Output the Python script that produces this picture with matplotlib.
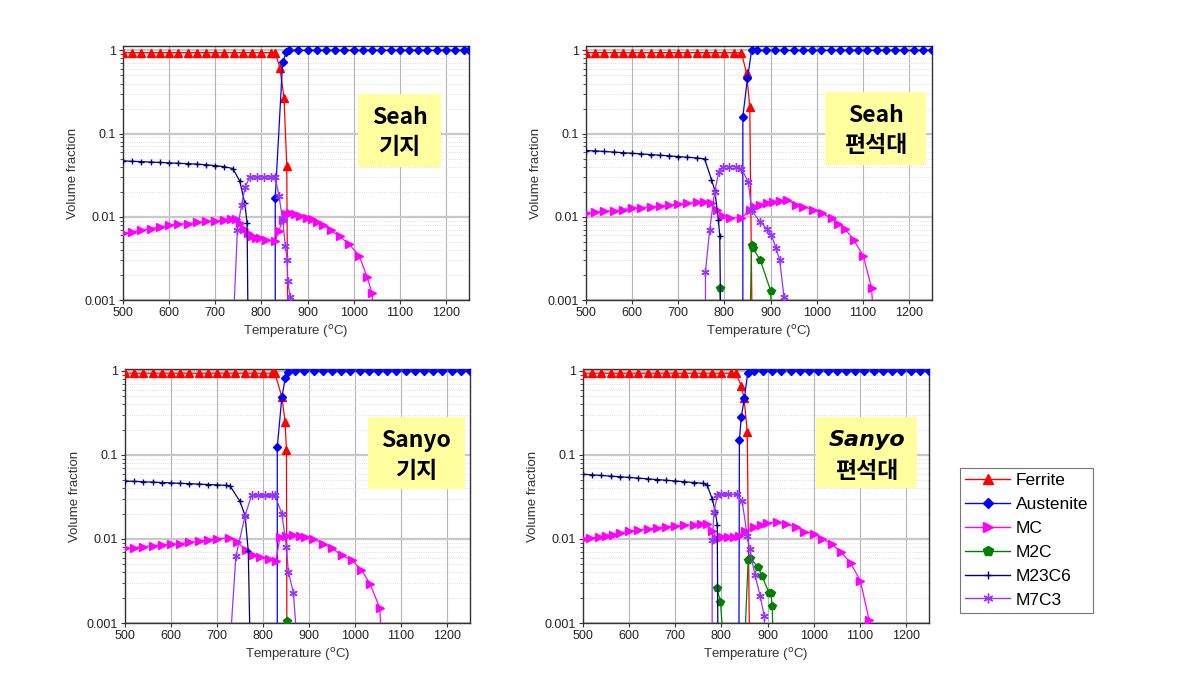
import numpy as np
import matplotlib
matplotlib.use("Agg")
import matplotlib.pyplot as plt
from matplotlib.lines import Line2D
from matplotlib.patches import Rectangle
from matplotlib.ticker import LogLocator, FixedLocator, FixedFormatter

nan = float("nan")

# ---- Panel 1: Seah 기지 ----
T_FER_1 = [500, 520, 540, 560, 580, 600, 620, 640, 660, 680, 700, 720, 740, 760, 780, 800, 820, 830, 840, 849, 855, 857]
V_FER_1 = [0.94, 0.94, 0.94, 0.94, 0.94, 0.94, 0.94, 0.94, 0.94, 0.94, 0.94, 0.94, 0.94, 0.94, 0.94, 0.94, 0.94, 0.94, 0.62, 0.27, 0.041, 0.0005]
T_AUS_1 = [830, 830, 846, 854, 860, 880, 900, 920, 940, 960, 980, 1000, 1020, 1040, 1060, 1080, 1100, 1120, 1140, 1160, 1180, 1200, 1220, 1240, 1250]
V_AUS_1 = [0.0005, 0.017, 0.72, 0.95, 1.0, 1.0, 1.0, 1.0, 1.0, 1.0, 1.0, 1.0, 1.0, 1.0, 1.0, 1.0, 1.0, 1.0, 1.0, 1.0, 1.0, 1.0, 1.0, 1.0, 1.0]
T_MC_1 = [500, 520, 540, 560, 580, 600, 620, 640, 660, 680, 700, 720, 735, 745, 753, 763, 771, 779, 788, 797, 811, 830,
          838, 846, 854, 862, 872, 883, 898, 910, 920, 934, 950, 970, 990, 1012, 1029, 1040, 1044]
V_MC_1 = [0.0063, 0.0066, 0.0069, 0.0072, 0.0076, 0.0079, 0.0081, 0.0083, 0.0086, 0.0088, 0.0089, 0.0092, 0.0095, 0.0094,
          0.0085, 0.0072, 0.0063, 0.0058, 0.0056, 0.0055, 0.0053, 0.0051, 0.0068, 0.0092, 0.0107, 0.0110, 0.0107, 0.0103,
          0.0098, 0.0093, 0.0087, 0.0080, 0.0069, 0.0058, 0.0047, 0.0034, 0.0019, 0.0012, 0.0005]
T_M2C_1 = []
V_M2C_1 = []
T_M23_1 = [500, 520, 540, 560, 580, 600, 620, 640, 660, 680, 700, 720, 738, 753, 764, 769, 771]
V_M23_1 = [0.047, 0.0465, 0.046, 0.0455, 0.045, 0.0445, 0.044, 0.0435, 0.043, 0.0422, 0.0412, 0.040, 0.038, 0.027, 0.0145, 0.0084, 0.0005]
T_M7_1 = [739, 748, 757, 765, 775, 790, 805, 820, 830, 838, 846, 852, 856, 857, 862, 864]
V_M7_1 = [0.0005, 0.007, 0.014, 0.023, 0.030, 0.030, 0.030, 0.030, 0.030, 0.018, 0.0092, 0.0045, 0.003, 0.0017, 0.0011, 0.0005]

# ---- Panel 2: Seah 편석대 ----
T_FER_2 = [500, 520, 540, 560, 580, 600, 620, 640, 660, 680, 700, 720, 740, 760, 780, 800, 820, 837, 848, 855, 860]
V_FER_2 = [0.94, 0.94, 0.94, 0.94, 0.94, 0.94, 0.94, 0.94, 0.94, 0.94, 0.94, 0.94, 0.94, 0.94, 0.94, 0.94, 0.94, 0.94, 0.53, 0.21, 0.0005]
T_AUS_2 = [840, 840, 850, 859, 870, 890, 910, 930, 950, 970, 990, 1010, 1030, 1050, 1070, 1090, 1110, 1130, 1150, 1170, 1190, 1210, 1230, 1250]
V_AUS_2 = [0.0005, 0.16, 0.46, 1.0, 1.0, 1.0, 1.0, 1.0, 1.0, 1.0, 1.0, 1.0, 1.0, 1.0, 1.0, 1.0, 1.0, 1.0, 1.0, 1.0, 1.0, 1.0, 1.0, 1.0]
T_MC_2 = [500, 520, 540, 560, 580, 600, 620, 640, 660, 680, 700, 720, 740, 755, 770, 783, 797, 812, 837, 855, 866, 877,
          892, 906, 920, 935, 956, 970, 993, 1011, 1033, 1047, 1062, 1080, 1101, 1119, 1124]
V_MC_2 = [0.0110, 0.0113, 0.0116, 0.0119, 0.0122, 0.0126, 0.0129, 0.0132, 0.0135, 0.0138, 0.0142, 0.0145, 0.0149, 0.0152,
          0.0146, 0.0122, 0.0102, 0.0098, 0.0096, 0.0122, 0.0131, 0.0139, 0.0146, 0.0152, 0.0157, 0.0160, 0.0139, 0.0133,
          0.0122, 0.0110, 0.0096, 0.0083, 0.0071, 0.0053, 0.0034, 0.0014, 0.0005]
T_M2C_2 = [790, 793, nan, 855.5, 859, 862, 878, 900, 903]
V_M2C_2 = [0.0014, 0.0005, nan, 0.0005, 0.0046, 0.0042, 0.0030, 0.0013, 0.0005]
T_M23_2 = [500, 520, 540, 560, 580, 600, 620, 640, 660, 680, 700, 720, 740, 757, 772, 779, 787, 790, 792]
V_M23_2 = [0.0625, 0.062, 0.061, 0.060, 0.059, 0.058, 0.057, 0.056, 0.055, 0.054, 0.053, 0.052, 0.051, 0.0497, 0.028, 0.021,
           0.0092, 0.0058, 0.0005]
T_M7_2 = [759, 759, 768, 779, 788, 797, 810, 825, 837, 852, 859, 877, 892, 902, 912, 920, 929, 930]
V_M7_2 = [0.0005, 0.0022, 0.0069, 0.020, 0.035, 0.040, 0.040, 0.040, 0.038, 0.026, 0.012, 0.0087, 0.0072, 0.006, 0.0042, 0.003, 0.0011, 0.0005]

# ---- Panel 3: Sanyo 기지 ----
T_FER_3 = [500, 520, 540, 560, 580, 600, 620, 640, 660, 680, 700, 720, 740, 760, 780, 800, 820, 826, 841, 848, 851, 852]
V_FER_3 = [0.94, 0.94, 0.94, 0.94, 0.94, 0.94, 0.94, 0.94, 0.94, 0.94, 0.94, 0.94, 0.94, 0.94, 0.94, 0.94, 0.94, 0.94, 0.49, 0.25, 0.114, 0.0005]
T_AUS_3 = [831, 831, 841, 848.5, 855, 870, 890, 910, 930, 950, 970, 990, 1010, 1030, 1050, 1070, 1090, 1110, 1130, 1150, 1170, 1190, 1210, 1230, 1250]
V_AUS_3 = [0.0005, 0.123, 0.49, 0.82, 0.96, 1.0, 1.0, 1.0, 1.0, 1.0, 1.0, 1.0, 1.0, 1.0, 1.0, 1.0, 1.0, 1.0, 1.0, 1.0, 1.0, 1.0, 1.0, 1.0, 1.0]
T_MC_3 = [500, 520, 540, 560, 580, 600, 620, 640, 660, 680, 700, 725, 743, 764, 779, 794, 812, 828, 837, 851, 866, 880,
          891, 909, 931, 949, 971, 993, 1014, 1033, 1054, 1058]
V_MC_3 = [0.0078, 0.0079, 0.0081, 0.0083, 0.0085, 0.0086, 0.0088, 0.0091, 0.0094, 0.0097, 0.0101, 0.0103, 0.0093, 0.0073,
          0.0064, 0.0061, 0.0057, 0.0055, 0.0105, 0.0109, 0.0113, 0.0110, 0.0106, 0.0101, 0.0088, 0.0078, 0.0064, 0.0056,
          0.0043, 0.0029, 0.0015, 0.0005]
T_M2C_3 = [853]
V_M2C_3 = [0.00105]
T_M23_3 = [500, 520, 540, 560, 580, 600, 620, 640, 660, 680, 700, 720, 728, 750, 761, 768, 772]
V_M23_3 = [0.049, 0.0485, 0.048, 0.0475, 0.047, 0.0465, 0.046, 0.0455, 0.045, 0.0445, 0.044, 0.0435, 0.043, 0.028, 0.019, 0.0071, 0.0005]
T_M7_3 = [728, 741, 761, 775, 790, 805, 820, 826, 841, 851, 855, 866, 875]
V_M7_3 = [0.0005, 0.0062, 0.019, 0.033, 0.033, 0.033, 0.033, 0.033, 0.020, 0.008, 0.0041, 0.0023, 0.0005]

# ---- Panel 4: Sanyo 편석대 ----
T_FER_4 = [500, 520, 540, 560, 580, 600, 620, 640, 660, 680, 700, 720, 740, 760, 780, 800, 820, 831, 843, 849, 856, 861]
V_FER_4 = [0.94, 0.94, 0.94, 0.94, 0.94, 0.94, 0.94, 0.94, 0.94, 0.94, 0.94, 0.94, 0.94, 0.94, 0.94, 0.94, 0.94, 0.94, 0.67, 0.48, 0.19, 0.0005]
T_AUS_4 = [838, 839, 843, 850, 857, 870, 890, 910, 930, 950, 970, 990, 1010, 1030, 1050, 1070, 1090, 1110, 1130, 1150, 1170, 1190, 1210, 1230, 1250]
V_AUS_4 = [0.0005, 0.15, 0.28, 0.48, 0.94, 1.0, 1.0, 1.0, 1.0, 1.0, 1.0, 1.0, 1.0, 1.0, 1.0, 1.0, 1.0, 1.0, 1.0, 1.0, 1.0, 1.0, 1.0, 1.0, 1.0]
T_MC_4 = [500, 515, 534, 550, 565, 580, 600, 620, 640, 660, 680, 700, 720, 740, 755, 769, 780, 791, 802, 815, 827, 838,
          852, 870, 885, 899, 921, 939, 961, 979, 1001, 1019, 1040, 1059, 1080, 1101, 1120, 1123]
V_MC_4 = [0.0099, 0.0102, 0.0106, 0.0109, 0.0113, 0.0118, 0.0124, 0.0128, 0.0132, 0.0136, 0.0140, 0.0143, 0.0145, 0.0148,
          0.0150, 0.0150, 0.0126, 0.0100, 0.0106, 0.0106, 0.0106, 0.0110, 0.0124, 0.0137, 0.0146, 0.0153, 0.0161, 0.0150,
          0.0140, 0.0122, 0.0116, 0.0101, 0.0086, 0.0070, 0.0052, 0.0032, 0.0011, 0.0005]
T_M2C_4 = [790, 798, 805, nan, 850, 858, 861, 879, 888, 903, 907, 910, 913]
V_M2C_4 = [0.0026, 0.0018, 0.0005, nan, 0.0005, 0.0056, 0.0060, 0.0047, 0.0036, 0.0023, 0.0023, 0.0016, 0.0005]
T_M23_4 = [500, 520, 540, 560, 580, 600, 620, 640, 660, 680, 700, 720, 740, 760, 769, 780, 787, 791, 792.5]
V_M23_4 = [0.059, 0.058, 0.057, 0.056, 0.055, 0.054, 0.053, 0.052, 0.051, 0.050, 0.049, 0.048, 0.047, 0.046, 0.044, 0.030,
           0.021, 0.0146, 0.0005]
T_M7_4 = [780, 780, 784, 791, 800, 815, 834, 845, 856, 861, 873, 884, 893, 895]
V_M7_4 = [0.0005, 0.0096, 0.021, 0.033, 0.034, 0.034, 0.034, 0.028, 0.011, 0.0076, 0.0037, 0.0021, 0.0012, 0.0005]

PHASES = ["Ferrite", "Austenite", "MC", "M2C", "M23C6", "M7C3"]
LABEL_TOP = ["Seah", "Seah", "Sanyo", "Sanyo"]
LABEL_BOT = ["기지", "편석대", "기지", "편석대"]

STYLE = {
    "Ferrite": dict(color="#ff0000", marker="^", ms=6),
    "Austenite": dict(color="#0000ff", marker="D", ms=4.5),
    "MC": dict(color="#ff00ff", marker=">", ms=6),
    "M2C": dict(color="#008000", marker="p", ms=6),
    "M23C6": dict(color="#000080", marker="+", ms=5),
    "M7C3": dict(color="#9933ff", marker=(6, 2, 0), ms=6),
}

panels = [
    [(T_FER_1, V_FER_1), (T_AUS_1, V_AUS_1), (T_MC_1, V_MC_1), (T_M2C_1, V_M2C_1), (T_M23_1, V_M23_1), (T_M7_1, V_M7_1)],
    [(T_FER_2, V_FER_2), (T_AUS_2, V_AUS_2), (T_MC_2, V_MC_2), (T_M2C_2, V_M2C_2), (T_M23_2, V_M23_2), (T_M7_2, V_M7_2)],
    [(T_FER_3, V_FER_3), (T_AUS_3, V_AUS_3), (T_MC_3, V_MC_3), (T_M2C_3, V_M2C_3), (T_M23_3, V_M23_3), (T_M7_3, V_M7_3)],
    [(T_FER_4, V_FER_4), (T_AUS_4, V_AUS_4), (T_MC_4, V_MC_4), (T_M2C_4, V_M2C_4), (T_M23_4, V_M23_4), (T_M7_4, V_M7_4)],
]

W, H = 1181, 676
plt.rcParams["font.family"] = ["Liberation Sans", "DejaVu Sans"]
fig = plt.figure(figsize=(W / 100, H / 100), dpi=100)

# axes rectangles in pixels: left, top, right, bottom
rects = [(123, 46, 469, 300), (586, 46, 932, 300), (125, 369, 470, 623), (583, 369, 929, 623)]
ytops = [1.13, 1.13, 1.055, 1.055]
# text boxes in pixels: left, top, right, bottom
boxes = [(358, 94, 441, 167), (825, 92, 926, 165), (368, 417, 465, 489), (816, 417, 917, 488)]
top_italic = [False, False, False, True]

for i, (curves, (l, t, r, b)) in enumerate(zip(panels, rects)):
    ax = fig.add_axes([l / W, 1 - b / H, (r - l) / W, (b - t) / H])
    ax.set_yscale("log")
    ax.set_xlim(500, 1250)
    ax.set_ylim(0.001, ytops[i])
    for name, (tt, vv) in zip(PHASES, curves):
        if len(tt) == 0:
            continue
        st = STYLE[name]
        ax.plot(tt, vv, color=st["color"], lw=0.9, marker=st["marker"], ms=st["ms"],
                mec=st["color"], mfc=st["color"], mew=1.0, zorder=3)
    ax.set_xticks([500, 600, 700, 800, 900, 1000, 1100, 1200])
    ax.yaxis.set_major_locator(FixedLocator([0.001, 0.01, 0.1, 1]))
    ax.yaxis.set_major_formatter(FixedFormatter(["0.001", "0.01", "0.1", "1"]))
    ax.yaxis.set_minor_locator(LogLocator(base=10, subs=np.arange(2, 10)))
    ax.yaxis.set_minor_formatter(plt.NullFormatter())
    ax.tick_params(axis="both", which="major", labelsize=9, length=3, width=0.8,
                   color="#333333", labelcolor="#222222", pad=2)
    ax.tick_params(axis="y", which="minor", length=2, width=0.6, color="#333333")
    ax.grid(True, axis="x", which="major", color="#b5b5b5", lw=0.8)
    ax.grid(True, axis="y", which="major", color="#c8c8c8", lw=1.6)
    ax.grid(True, axis="y", which="minor", color="#d5d5d5", lw=0.6, ls=":")
    ax.set_axisbelow(True)
    for sp in ax.spines.values():
        sp.set_color("#333333")
        sp.set_linewidth(1.0)
    ax.set_xlabel("Temperature ($^{\\mathrm{o}}$C)", fontsize=9.5, color="#333333", labelpad=3)
    ax.set_ylabel("Volume fraction", fontsize=9.5, color="#333333", labelpad=4)

    bl, bt, br, bb = boxes[i]
    fig.patches.append(Rectangle((bl / W, 1 - bb / H), (br - bl) / W, (bb - bt) / H,
                                 transform=fig.transFigure, facecolor="#ffff9f",
                                 edgecolor="none", zorder=5))
    cx = (bl + br) / 2 / W
    if top_italic[i]:
        fig.text(cx, 1 - (bt + 23) / H, LABEL_TOP[i], ha="center", va="center", fontsize=16,
                 fontweight="bold", style="italic", family=["DejaVu Sans"], zorder=6)
    else:
        fig.text(cx, 1 - (bt + 23) / H, LABEL_TOP[i], ha="center", va="center", fontsize=16.5,
                 fontweight="bold", family=["Noto Sans CJK KR", "DejaVu Sans"], zorder=6)
    fig.text(cx, 1 - (bt + 54) / H, LABEL_BOT[i], ha="center", va="center", fontsize=16.5,
             fontweight="bold", family=["Noto Sans CJK KR", "DejaVu Sans"], zorder=6)

handles = [Line2D([], [], color=STYLE[n]["color"], lw=1.0, marker=STYLE[n]["marker"],
                  ms=STYLE[n]["ms"] + 1, mec=STYLE[n]["color"], mfc=STYLE[n]["color"]) for n in PHASES]
leg = fig.legend(handles, PHASES, loc="upper left", bbox_to_anchor=(960 / W, 1 - 468 / H),
                 fontsize=12.5, frameon=True, fancybox=False, edgecolor="#555555",
                 handlelength=2.6, handletextpad=0.3, labelspacing=0.5, borderpad=0.3,
                 borderaxespad=0)
leg.get_frame().set_linewidth(0.8)

fig.savefig("out.png", dpi=100)
